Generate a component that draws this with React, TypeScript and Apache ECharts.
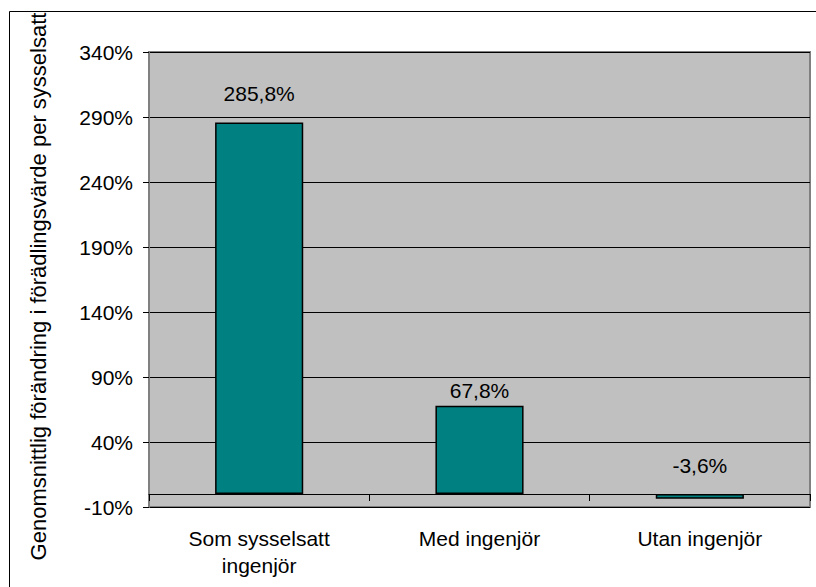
import React, { useEffect, useRef } from "react";
import * as echarts from "echarts";

const categories = ["Som sysselsatt\ningenjör", "Med ingenjör", "Utan ingenjör"];
const values = [285.8, 67.8, -3.6];
const valueLabels = ["285,8%", "67,8%", "-3,6%"];
const yTitle = "Genomsnittlig förändring i förädlingsvärde per sysselsatt";
const yMin = -10;
const yMax = 340;
const yStep = 50;

const FONT = "'Liberation Sans', Arial, sans-serif";

export default function App() {
  const ref = useRef<HTMLDivElement>(null);
  useEffect(() => {
    if (!ref.current) return;
    const chart = echarts.init(ref.current, undefined, { renderer: "svg" });
    chart.setOption({
      animation: false,
      backgroundColor: "#ffffff",
      textStyle: { fontFamily: FONT, color: "#000" },
      graphic: [
        {
          type: "rect",
          shape: { x: 9.5, y: 11.5, width: 900, height: 700 },
          style: { fill: "none", stroke: "#000", lineWidth: 1 },
          silent: true,
          z: -1,
        },
      ],
      grid: {
        left: 149,
        top: 52,
        right: 6,
        bottom: 80,
        show: true,
        backgroundColor: "#C0C0C0",
        borderColor: "#808080",
        borderWidth: 2,
      },
      xAxis: {
        type: "category",
        data: categories,
        axisLine: { onZero: true, lineStyle: { color: "#000", width: 1 } },
        axisTick: { show: true, length: 7, lineStyle: { color: "#000" } },
        axisLabel: {
          margin: 18,
          fontSize: 21,
          lineHeight: 27,
          color: "#000",
          fontFamily: FONT,
          interval: 0,
        },
      },
      yAxis: {
        type: "value",
        min: yMin,
        max: yMax,
        interval: yStep,
        name: yTitle,
        nameLocation: "middle",
        nameGap: 100,
        nameRotate: 90,
        nameTextStyle: {
          fontSize: 22,
          color: "#000",
          fontFamily: FONT,
          padding: [0, 14, 0, 0],
        },
        axisLine: { show: true, lineStyle: { color: "#808080", width: 2 } },
        axisTick: { show: true, length: 6, lineStyle: { color: "#000" } },
        axisLabel: {
          margin: 16,
          fontSize: 21,
          color: "#000",
          fontFamily: FONT,
          formatter: (v: number) => `${v}%`,
        },
        splitLine: { show: true, lineStyle: { color: "#000", width: 1 } },
      },
      series: [
        {
          type: "bar",
          barWidth: "40%",
          data: values.map((v, i) => ({
            value: v,
            label: { distance: i === 1 ? 5 : 18 },
          })),
          itemStyle: { color: "#008080", borderColor: "#000", borderWidth: 1.5 },
          label: {
            show: true,
            position: "top",
            fontSize: 21,
            color: "#000",
            fontFamily: FONT,
            formatter: (p: any) => valueLabels[p.dataIndex],
          },
        },
      ],
    });
    return () => chart.dispose();
  }, []);
  return (
    <div
      ref={ref}
      style={{ position: "absolute", left: 0, top: 0, width: 816, height: 587 }}
    />
  );
}
